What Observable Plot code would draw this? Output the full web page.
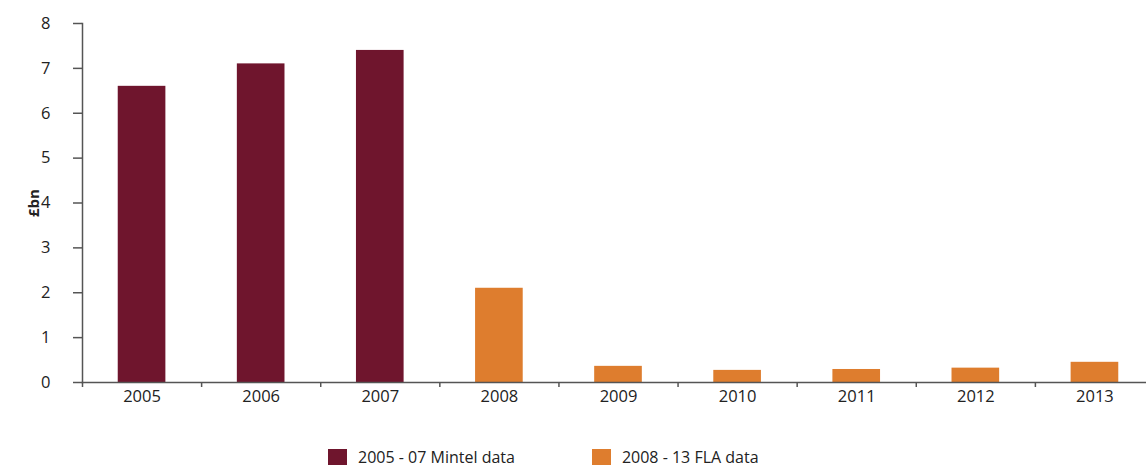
<!DOCTYPE html>
<html>
<head>
<meta charset="utf-8">
<script src="https://cdn.jsdelivr.net/npm/d3@7"></script>
<script src="https://cdn.jsdelivr.net/npm/@observablehq/plot@0.6"></script>
<style>
  body { margin: 0; background: #fff; font-family: "Open Sans", sans-serif; }
  #legend { display: flex; margin-top: 17px; padding-left: 328px; font-size: 16px; color: #222; }
  .item { display: flex; align-items: flex-start; }
  .sw { width: 19px; height: 16px; margin-right: 11px; margin-top: 2px; }
</style>
</head>
<body>
<div id="chart"></div>
<div id="legend"></div>
<script>
const years = ["2005","2006","2007","2008","2009","2010","2011","2012","2013"];
const values = [6.6, 7.1, 7.4, 2.1, 0.36, 0.27, 0.29, 0.32, 0.45];
const sources = ["2005 - 07 Mintel data","2005 - 07 Mintel data","2005 - 07 Mintel data",
  "2008 - 13 FLA data","2008 - 13 FLA data","2008 - 13 FLA data","2008 - 13 FLA data","2008 - 13 FLA data","2008 - 13 FLA data"];
const seriesNames = ["2005 - 07 Mintel data", "2008 - 13 FLA data"];
const seriesColors = ["#6F152D", "#DE7D2E"];
const yTicks = [0,1,2,3,4,5,6,7,8];
const yLabel = "£bn";

const data = years.map((y, i) => ({year: y, value: values[i], source: sources[i]}));

const W = 1146, H = 430;
const x0 = 82, x1 = 1154;
const bw = (x1 - x0) / years.length;
const axisColor = "#555";

const chart = Plot.plot({
  width: W, height: H,
  marginLeft: 82, marginRight: 0, marginTop: 23, marginBottom: 48,
  style: {fontFamily: "'Open Sans', sans-serif", fontSize: "16px", color: "#222", overflow: "visible"},
  x: {domain: years, range: [x0, x1], paddingInner: 0.6, paddingOuter: 0.3, align: 0.5, round: false, label: null},
  y: {domain: [0, 8], label: null},
  color: {domain: seriesNames, range: seriesColors},
  marks: [
    Plot.barY(data, {x: "year", y: "value", fill: "source"}),
    Plot.frame({anchor: "left", stroke: axisColor, strokeWidth: 1.5}),
    Plot.frame({anchor: "bottom", stroke: axisColor, strokeWidth: 1.5}),
    Plot.axisY(yTicks, {tickSize: 9, tickPadding: 23, stroke: axisColor, strokeWidth: 1.5, label: null, fill: "#222", fontSize: 16.5}),
    Plot.axisX({tickSize: 5, dx: -bw / 2, text: null, stroke: axisColor, strokeWidth: 1.5, label: null}),
    Plot.axisX({tickSize: 0, tickPadding: 8, label: null, fill: "#222", fontSize: 16.5}),
    Plot.text([yLabel], {frameAnchor: "left", textAnchor: "middle", rotate: -90, dx: -48, fontWeight: "bold", fontSize: 15, fill: "#222"})
  ]
});
document.getElementById("chart").append(chart);

const legend = document.getElementById("legend");
seriesNames.forEach((n, i) => {
  const it = document.createElement("div");
  it.className = "item";
  it.style.marginRight = i === 0 ? "77px" : "0";
  const sw = document.createElement("span");
  sw.className = "sw";
  sw.style.background = seriesColors[i];
  const t = document.createElement("span");
  t.textContent = n;
  t.style.lineHeight = "20px";
  it.append(sw, t);
  legend.append(it);
});
</script>
</body>
</html>
